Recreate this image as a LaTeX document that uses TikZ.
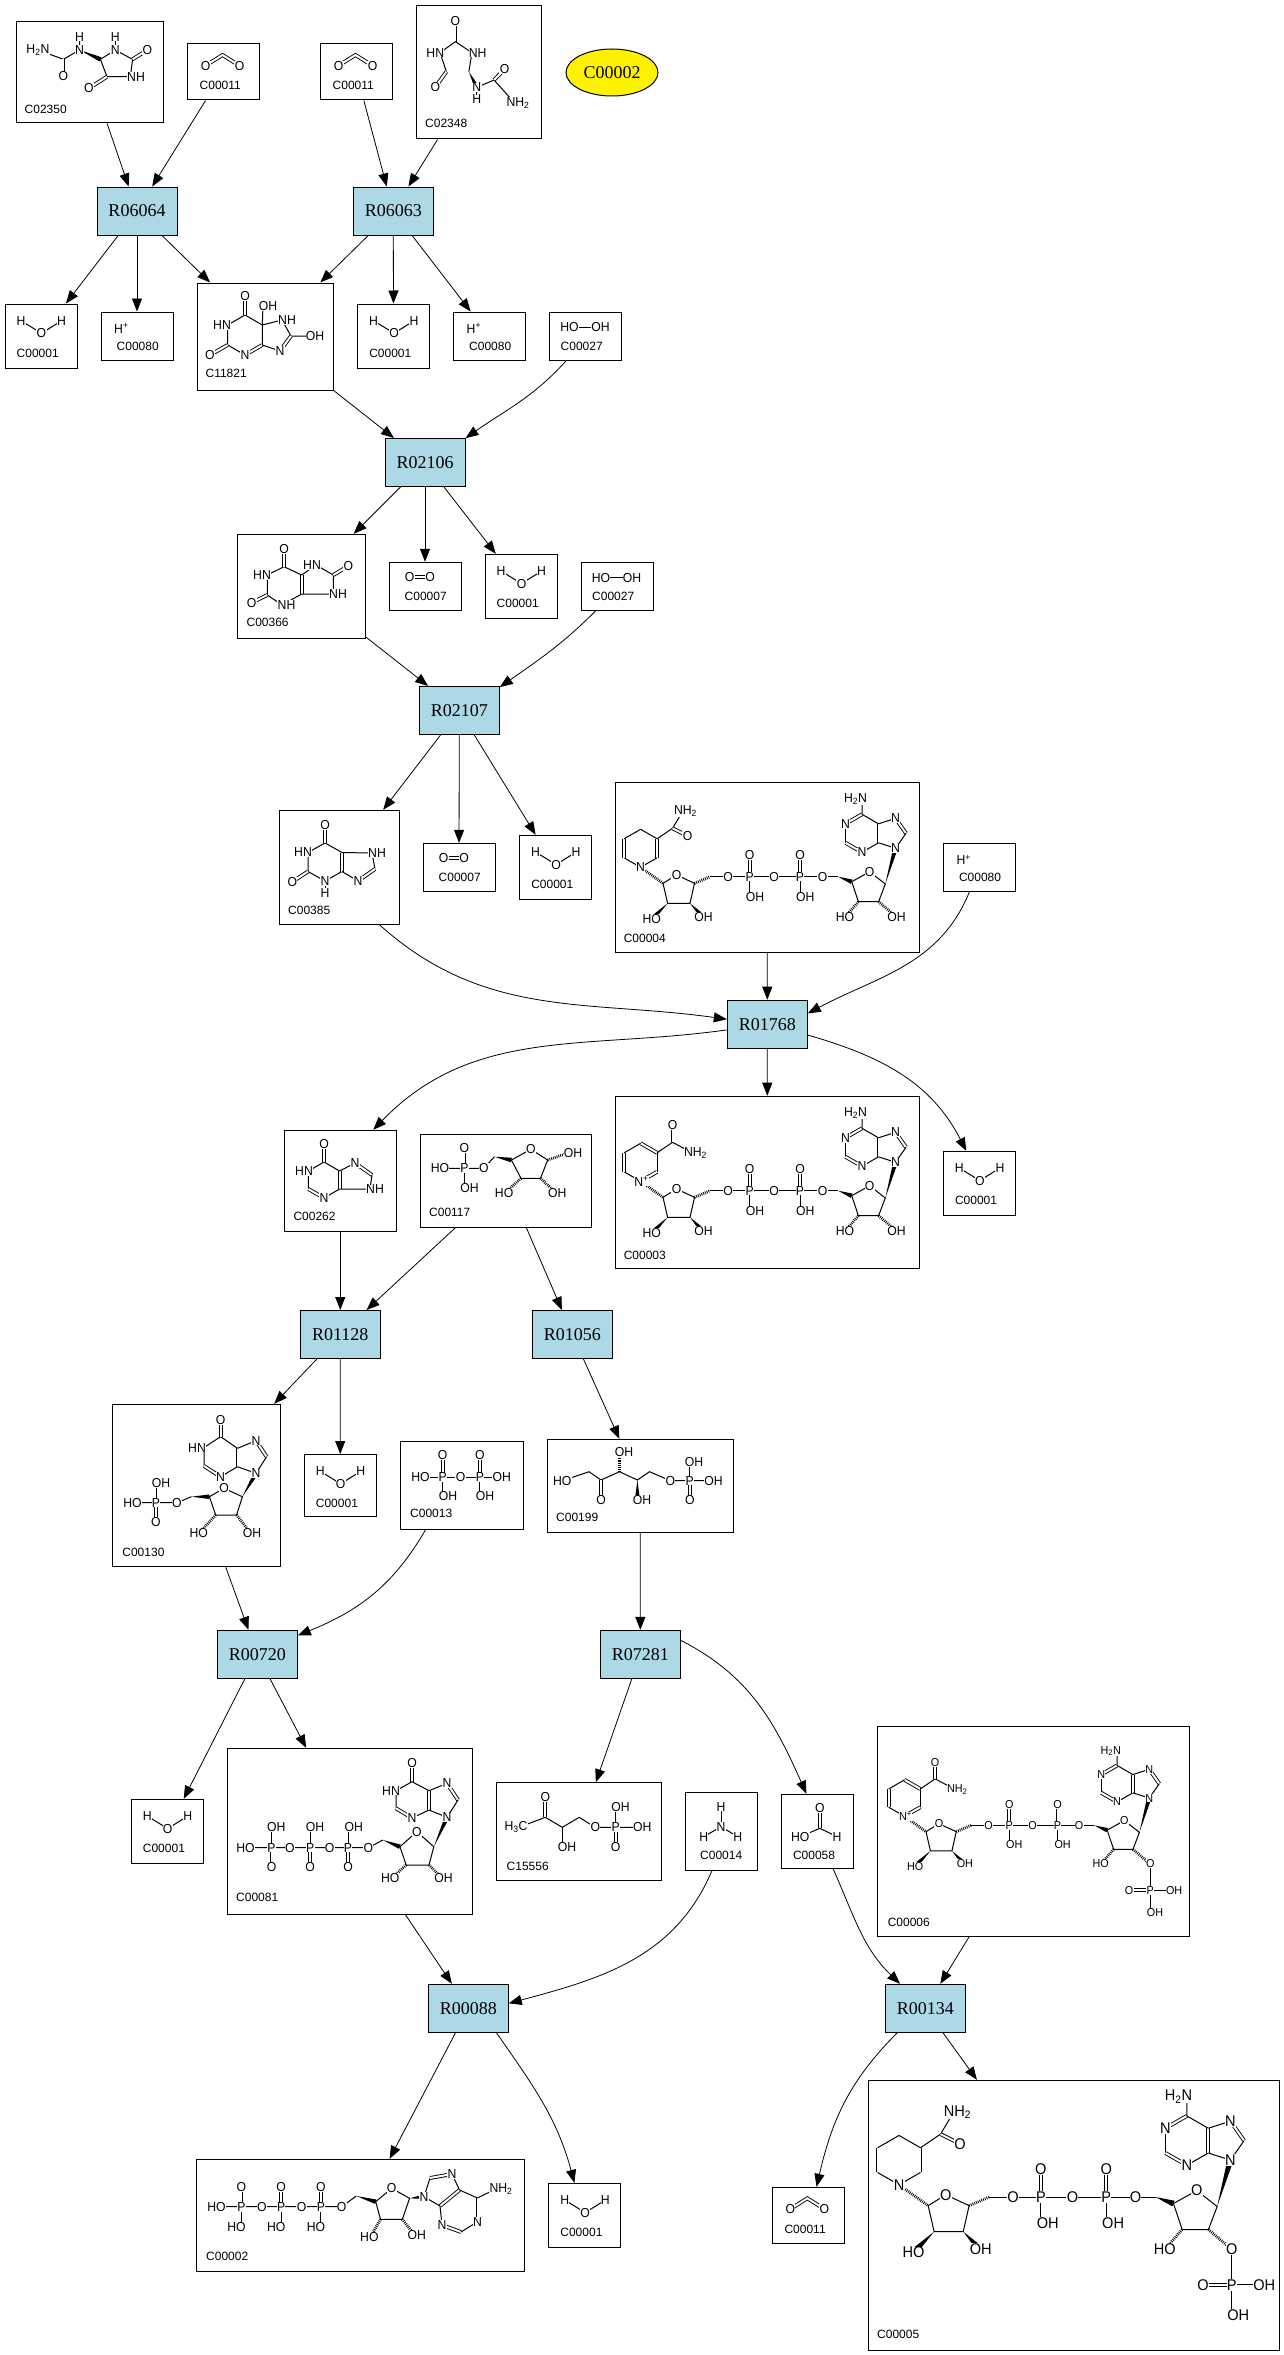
\documentclass[tikz,border=0pt]{standalone}
\usepackage{fontspec}
\usetikzlibrary{arrows.meta,calc,shapes.geometric}
\newfontfamily\chemf[FakeStretch=0.94]{Liberation Sans}
\newfontfamily\idf{Liberation Sans}
\newfontfamily\rxf{Liberation Serif}
\newcommand\atomfont{\chemf\fontsize{13}{14}\selectfont}
\newcommand\idfont{\idf\fontsize{12}{13}\selectfont}
\newcommand\rxfont{\rxf\fontsize{18}{20}\selectfont}
\definecolor{rxblue}{RGB}{173,216,230}
\tikzset{
  rx/.style={draw, line width=1pt, fill=rxblue, minimum width=80pt, minimum height=48pt, inner sep=0pt, font=\rxfont},
  cbox/.style={draw, line width=1pt, inner sep=0pt},
  conn/.style={line width=0.8pt, -{Triangle[length=13pt,width=10pt]}},
  bond/.style={line width=1pt},
  dbl/.style={double, double distance=2pt, line width=0.9pt},
  hashb/.style={line width=2.8pt, dash pattern=on 0.8pt off 1.1pt},
  atom/.style={fill=white, inner sep=0.3pt, font=\atomfont},
  idl/.style={anchor=base west, inner sep=0pt, font=\idfont},
}
\newcommand\atm[2]{\node[atom] at (#1) {#2};}
\newcommand\wdg[2]{\fill ($(#1)$) -- ($(#2)!2.3pt!90:(#1)$) -- ($(#2)!2.3pt!-90:(#1)$) -- cycle;}
\newcommand\hsh[2]{\draw[hashb] (#1) -- (#2);}
% small molecules (top-left corner)
\newcommand\water[2]{\begin{scope}[shift={(#1,#2)}]
\draw[bond] (16,16.7) -- (36.5,29.3) -- (56.6,16.7);
\atm{16,16.7}{H}\atm{36.5,29.3}{O}\atm{56.6,16.7}{H}
\node[idl] at (11.5,53) {C00001};\end{scope}}
\newcommand\cotwo[2]{\begin{scope}[shift={(#1,#2)}]
\draw[dbl] (18,21.7) -- (35,11) -- (52,21.7);
\atm{18,21.7}{O}\atm{52,21.7}{O}
\node[idl] at (12,46) {C00011};\end{scope}}
\newcommand\hplus[2]{\begin{scope}[shift={(#1,#2)}]
\atm{20.4,16.3}{H\textsuperscript{+}}
\node[idl] at (15.5,38) {C00080};\end{scope}}
\newcommand\hooh[2]{\begin{scope}[shift={(#1,#2)}]
\draw[bond] (20,15.5) -- (51,15.5);
\atm{20,15.5}{HO}\atm{51,15.5}{OH}
\node[idl] at (11,38) {C00027};\end{scope}}
\newcommand\otwo[2]{\begin{scope}[shift={(#1,#2)}]
\draw[dbl] (20.5,15) -- (41,15);
\atm{20.5,15}{O}\atm{41,15}{O}
\node[idl] at (15.5,38) {C00007};\end{scope}}
% NAD family
\newcommand\nicred{%
\draw[bond] (25.1,47) -- (41.6,56.5);
\draw[dbl] (41.6,56.5) -- (41.6,75.5);
\draw[bond] (41.6,75.5) -- (25.1,85) -- (8.6,75.5);
\draw[dbl] (8.6,75.5) -- (8.6,56.5);
\draw[bond] (8.6,56.5) -- (25.1,47);
\draw[bond] (41.6,56.5) -- (57,46) -- (66,31);
\draw[dbl] (57,46) -- (71,53);
\atm{25.1,85}{N}\atm{70,29}{NH\textsubscript{2}}\atm{72,53.5}{O}}
\newcommand\nicox{%
\draw[dbl] (25.1,47) -- (41.6,56.5);
\draw[bond] (41.6,56.5) -- (41.6,75.5);
\draw[dbl] (41.6,75.5) -- (25.1,85);
\draw[bond] (25.1,85) -- (8.6,75.5);
\draw[dbl] (8.6,75.5) -- (8.6,56.5);
\draw[bond] (8.6,56.5) -- (25.1,47);
\draw[bond] (41.6,56.5) -- (57,46) -- (74,55);
\draw[dbl] (57,46) -- (57,29);
\atm{26,85}{N\textsuperscript{+}}\atm{57,29}{O}\atm{80,57}{NH\textsubscript{2}}}
\newcommand\nadcore[1]{%
\hsh{25.1,85}{47.5,101}
\draw[bond] (47.5,101) -- (61,92.7) -- (79,101) -- (74.5,121) -- (52.1,121) -- cycle;
\wdg{52.1,121}{38,135}
\wdg{74.5,121}{86,133}
\hsh{79,101}{94.5,94.4}
\draw[bond] (94.5,94.4) -- (222.5,94.4);
\draw[dbl] (134.2,94.4) -- (134.2,73); \draw[bond] (134.2,94.4) -- (134.2,114.4);
\draw[dbl] (184.5,94.4) -- (184.5,73); \draw[bond] (184.5,94.4) -- (184.5,114.4);
\wdg{222.5,94.4}{236.2,99.4}
\draw[bond] (236.2,99.4) -- (254.1,89.4) -- (269.8,101.7) -- (263.1,119.4) -- (242.9,119.4) -- cycle;
\hsh{242.9,119.4}{231,133}
\hsh{263.1,119.4}{279,133}
\wdg{269.8,101.7}{280,66}
\draw[dbl] (246.5,32) -- (230,41.5);
\draw[bond] (230,41.5) -- (230,60.5);
\draw[dbl] (230,60.5) -- (246.5,70);
\draw[bond] (246.5,70) -- (263,60.5);
\draw[dbl] (263,60.5) -- (263,41.5);
\draw[bond] (263,41.5) -- (246.5,32) -- (246.5,18);
\draw[bond] (263,41.5) -- (280,36);
\draw[dbl] (280,36) -- (290.5,51);
\draw[bond] (290.5,51) -- (280,66) -- (263,60.5);
\atm{61,92.7}{O}\atm{36.3,137}{HO}\atm{88,134.4}{OH}
\atm{112.7,94.4}{O}\atm{134.2,94.4}{P}\atm{134.2,73}{O}\atm{139.5,114.4}{OH}
\atm{158.5,94.4}{O}\atm{184.5,94.4}{P}\atm{184.5,73}{O}\atm{189.8,114.4}{OH}
\atm{207,94.4}{O}\atm{254.1,89.4}{O}\atm{229.5,134.4}{HO}\atm{281.1,134.4}{#1}
\atm{240,17}{H\textsubscript{2}N}\atm{230,41.5}{N}\atm{246.5,70}{N}\atm{280,36}{N}\atm{280,66}{N}}
\newcommand\twoP{%
\draw[bond] (281,134.4) -- (281,162) -- (304,162);
\draw[dbl] (281,162) -- (259,162);
\draw[bond] (281,162) -- (281,185);
\atm{281,162}{P}\atm{259,162}{O}\atm{306,162}{OH}\atm{286,185}{OH}}

\begin{document}
\begin{tikzpicture}[x=1pt,y=-1pt]
\fill[white] (0,0) rectangle (1284,2355);
\useasboundingbox (0,0) rectangle (1284,2355);

% ---------------- boxes ----------------
\node[cbox, minimum width=146.5pt, minimum height=101pt] (c02350) at (89.75,72.5) {};
\node[cbox, minimum width=71.5pt, minimum height=56pt] (c00011a) at (223.25,72) {};
\node[cbox, minimum width=71.5pt, minimum height=56pt] (c00011b) at (356.25,72) {};
\node[cbox, minimum width=125pt, minimum height=133pt] (c02348) at (479,72.5) {};
\node[draw, line width=1pt, ellipse, fill=yellow, minimum width=92pt, minimum height=47pt, inner sep=0pt, font=\rxfont] (c00002e) at (612,72.5) {C00002};
\node[rx] (r06064) at (137,211) {R06064};
\node[rx] (r06063) at (393.25,211) {R06063};
\node[cbox, minimum width=72pt, minimum height=64pt] (c00001a) at (41,336) {};
\node[cbox, minimum width=72pt, minimum height=48pt] (c00080a) at (137,336) {};
\node[cbox, minimum width=136.5pt, minimum height=107pt] (c11821) at (265.25,336.5) {};
\node[cbox, minimum width=72pt, minimum height=64pt] (c00001b) at (393.55,336) {};
\node[cbox, minimum width=72pt, minimum height=48pt] (c00080b) at (489.5,336) {};
\node[cbox, minimum width=72pt, minimum height=48pt] (c00027a) at (585.5,336) {};
\node[rx] (r02106) at (425,462.5) {R02106};
\node[cbox, minimum width=127.5pt, minimum height=104pt] (c00366) at (301.25,586.3) {};
\node[cbox, minimum width=72pt, minimum height=48pt] (c00007a) at (425,586.3) {};
\node[cbox, minimum width=72pt, minimum height=64pt] (c00001c) at (521,586.3) {};
\node[cbox, minimum width=72pt, minimum height=48pt] (c00027b) at (617,586.3) {};
\node[rx] (r02107) at (459.3,710.5) {R02107};
\node[cbox, minimum width=119.5pt, minimum height=114pt] (c00385) at (339.25,867.3) {};
\node[cbox, minimum width=72pt, minimum height=48pt] (c00007b) at (459,867.3) {};
\node[cbox, minimum width=72pt, minimum height=64pt] (c00001d) at (555.55,867.3) {};
\node[cbox, minimum width=303.5pt, minimum height=170pt] (c00004) at (767.25,867.3) {};
\node[cbox, minimum width=72pt, minimum height=48pt] (c00080c) at (979.3,867.3) {};
\node[rx] (r01768) at (767.3,1024.2) {R01768};
\node[cbox, minimum width=303.5pt, minimum height=172pt] (c00003) at (767.25,1182.2) {};
\node[cbox, minimum width=72pt, minimum height=64pt] (c00001e) at (979.3,1183.3) {};
\node[cbox, minimum width=111.5pt, minimum height=100.7pt] (c00262) at (340.25,1180.65) {};
\node[cbox, minimum width=170.7pt, minimum height=92.7pt] (c00117) at (506.05,1180.65) {};
\node[rx] (r01128) at (340.25,1334.5) {R01128};
\node[rx] (r01056) at (572.45,1334.5) {R01056};
\node[cbox, minimum width=167.5pt, minimum height=162.4pt] (c00130) at (196.25,1485.5) {};
\node[cbox, minimum width=72pt, minimum height=62pt] (c00001f) at (340.2,1485.5) {};
\node[cbox, minimum width=122.6pt, minimum height=88pt] (c00013) at (461.7,1485) {};
\node[cbox, minimum width=185.3pt, minimum height=92.7pt] (c00199) at (640.35,1485.65) {};
\node[rx] (r00720) at (257.3,1654.3) {R00720};
\node[rx] (r07281) at (640.3,1654.3) {R07281};
\node[cbox, minimum width=72pt, minimum height=64pt] (c00001g) at (167.2,1831.3) {};
\node[cbox, minimum width=244.7pt, minimum height=166pt] (c00081) at (349.65,1831.3) {};
\node[cbox, minimum width=164.8pt, minimum height=97.3pt] (c15556) at (578.8,1831.35) {};
\node[cbox, minimum width=72pt, minimum height=78pt] (c00014) at (721,1831.3) {};
\node[cbox, minimum width=72pt, minimum height=74pt] (c00058) at (817.2,1831.3) {};
\node[cbox, minimum width=311.6pt, minimum height=209.3pt] (c00006) at (1033.2,1831.35) {};
\node[rx] (r00088) at (468.25,2008.3) {R00088};
\node[rx] (r00134) at (925.4,2008.3) {R00134};
\node[cbox, minimum width=327.7pt, minimum height=112pt] (c00002b) at (360.15,2215.3) {};
\node[cbox, minimum width=71.3pt, minimum height=64pt] (c00001h) at (584.35,2215.3) {};
\node[cbox, minimum width=72pt, minimum height=56pt] (c00011c) at (808.35,2215.3) {};
\node[cbox, minimum width=411.2pt, minimum height=270pt] (c00005) at (1074,2215.3) {};

% ---------------- small molecules ----------------
\cotwo{187.5}{44}\cotwo{320.5}{44}\cotwo{772.35}{2187.3}
\water{5}{304}\water{357.55}{304}\water{485}{554.3}\water{519.55}{835.3}
\water{943.3}{1151.3}\water{304.2}{1454.5}\water{131.2}{1799.3}\water{548.7}{2183.3}
\hplus{101}{312}\hplus{453.5}{312}\hplus{943.3}{843.3}
\hooh{549.5}{312}\hooh{581}{562.3}
\otwo{389}{562.3}\otwo{423}{843.3}

% C02350
\draw[bond] (37.9,50) -- (63.4,59.3) -- (79.5,50) -- (79.5,36.7);
\draw[dbl] (63.4,59.3) -- (63.4,76);
\wdg{79.5,50}{100.4,59.3}
\draw[bond] (100.4,59.3) -- (115.2,50) -- (132.6,59.3) -- (130.4,76.7) -- (107,76.7) -- cycle;
\draw[bond] (115.2,50) -- (115.2,36.7);
\draw[dbl] (132.6,59.3) -- (147.3,50);
\draw[dbl] (107,76.7) -- (89,88.3);
\atm{37.9,50}{H\textsubscript{2}N}\atm{79.5,50}{N}\atm{79.5,36.7}{H}\atm{63.4,76}{O}
\atm{115.2,50}{N}\atm{115.2,36.7}{H}\atm{147.3,50}{O}\atm{136,76.7}{NH}\atm{89,88.3}{O}
\node[idl] at (24.5,113.3) {C02350};

% C02348
\draw[dbl] (455.4,41.7) -- (455.4,20.7);
\draw[bond] (440,52.7) -- (455.4,41.7) -- (472,52.7);
\draw[bond] (440,52.7) -- (446.4,71.7);
\draw[dbl] (446.4,71.7) -- (435.3,87.3);
\draw[bond] (472,52.7) -- (468.8,71.7);
\wdg{468.8,71.7}{476.8,87.3}
\draw[bond] (476.8,87.3) -- (476.8,99.5);
\draw[bond] (476.8,87.3) -- (494,80) -- (512,100);
\draw[dbl] (494,80) -- (504.5,69.3);
\atm{455.4,20.7}{O}\atm{435.3,52.7}{HN}\atm{477.7,52.7}{NH}\atm{435.3,87.3}{O}\atm{476.8,87.3}{N}\atm{476.8,99.5}{H}\atm{504.5,69.3}{O}\atm{518,102.7}{NH\textsubscript{2}}
\node[idl] at (425,127.3) {C02348};

% C11821
\draw[bond] (245,315) -- (227.7,325) -- (227.7,345) -- (245,355);
\draw[dbl] (245,355) -- (262.3,345);
\draw[bond] (262.3,345) -- (262.3,325) -- (245,315);
\draw[dbl] (245,315) -- (245,296);
\draw[dbl] (227.7,345) -- (210,355);
\draw[bond] (262.3,325) -- (263,306);
\draw[bond] (262.3,325) -- (282,320) -- (291,336) -- (315,336);
\draw[dbl] (291,336) -- (280,351);
\draw[bond] (280,351) -- (262.3,345);
\atm{245,296}{O}\atm{222,325}{HN}\atm{210,355}{O}\atm{245,355}{N}\atm{268,306}{OH}\atm{287,320}{NH}\atm{280,351}{N}\atm{315,336}{OH}
\node[idl] at (205.4,377.7) {C11821};

% C00366
\draw[bond] (284,566.7) -- (267.3,575) -- (267.3,595) -- (282,605) -- (301.7,594);
\draw[dbl] (301.7,594) -- (301.7,575);
\draw[bond] (301.7,575) -- (284,566.7);
\draw[dbl] (284,566.7) -- (284,549.3);
\draw[dbl] (267.3,595) -- (251.7,602.7);
\draw[bond] (301.7,575) -- (316,565) -- (333.3,575) -- (333.3,594) -- (301.7,594);
\draw[dbl] (333.3,575) -- (348.3,566);
\atm{284,549.3}{O}\atm{262,575}{HN}\atm{251.7,602.7}{O}\atm{286.5,605}{NH}\atm{312,565}{HN}\atm{348.3,566}{O}\atm{338,594}{NH}
\node[idl] at (246.4,626) {C00366};

% C00385
\draw[bond] (325,843) -- (308,852.5) -- (308,871.5) -- (325,881) -- (342,871.5);
\draw[dbl] (342,871.5) -- (342,852.5);
\draw[bond] (342,852.5) -- (325,843);
\draw[dbl] (325,843) -- (325,825);
\draw[dbl] (308,871.5) -- (292.4,881.7);
\draw[bond] (325,881) -- (325,893);
\draw[bond] (342,852.5) -- (372,853) -- (375,869);
\draw[dbl] (375,869) -- (358,881);
\draw[bond] (358,881) -- (342,871.5);
\atm{325,825}{O}\atm{303,852.5}{HN}\atm{292.4,881.7}{O}\atm{325,881}{N}\atm{325,893}{H}\atm{377,853}{NH}\atm{358,881}{N}
\node[idl] at (288,914.3) {C00385};

% NAD family
\begin{scope}[shift={(615.5,782.3)}]\nadcore{OH}\nicred\end{scope}
\node[idl] at (623.6,942.7) {C00004};
\begin{scope}[shift={(615.5,1096.3)}]\nadcore{OH}\nicox\end{scope}
\node[idl] at (623.6,1259) {C00003};
\begin{scope}[shift={(880.4,1734.7)}, scale=0.96]
\renewcommand\atomfont{\chemf\fontsize{11.5}{12}\selectfont}
\twoP\nadcore{O}\nicox\end{scope}
\node[idl] at (887.6,1926.7) {C00006};
\begin{scope}[shift={(866.4,2074.3)}, scale=1.3]
\renewcommand\atomfont{\chemf\fontsize{15.5}{16}\selectfont}
\twoP\nadcore{O}\nicred\end{scope}
\node[idl] at (877,2338.3) {C00005};

% C00262
\draw[bond] (324,1162) -- (308.4,1171) -- (308.4,1189);
\draw[dbl] (308.4,1189) -- (324,1198);
\draw[bond] (324,1198) -- (339.6,1189);
\draw[dbl] (339.6,1189) -- (339.6,1171);
\draw[bond] (339.6,1171) -- (324,1162);
\draw[dbl] (324,1162) -- (324,1144.3);
\draw[bond] (339.6,1171) -- (355,1163);
\draw[dbl] (355,1163) -- (372,1175);
\draw[bond] (372,1175) -- (370,1189) -- (339.6,1189);
\atm{324,1144.3}{O}\atm{304,1171}{HN}\atm{324,1198}{N}\atm{355,1163}{N}\atm{375,1189.3}{NH}
\node[idl] at (293.3,1220.7) {C00262};

% C00117
\draw[dbl] (464.4,1168.3) -- (464.4,1148.3);
\draw[bond] (438.7,1168.3) -- (483.8,1168.3) -- (494.4,1156.7);
\draw[bond] (464.4,1168.3) -- (464.4,1188.3);
\wdg{494.4,1156.7}{511.4,1160}
\draw[bond] (511.4,1160) -- (530.8,1149.3) -- (547.7,1160) -- (540.5,1178.3) -- (521,1178.3) -- cycle;
\hsh{547.7,1160}{568,1153}
\hsh{521,1178.3}{506,1192}
\hsh{540.5,1178.3}{555,1192}
\atm{464.4,1148.3}{O}\atm{440,1168.3}{HO}\atm{464.4,1168.3}{P}\atm{469.5,1188.3}{OH}\atm{483.8,1168.3}{O}\atm{530.8,1149.3}{O}\atm{573,1152.7}{OH}\atm{504.1,1193.3}{HO}\atm{557.4,1192.7}{OH}
\node[idl] at (429,1216.7) {C00117};

% C00130
\draw[bond] (220.6,1436.7) -- (204,1447.5) -- (204,1466);
\draw[dbl] (204,1466) -- (220.6,1476.7);
\draw[bond] (220.6,1476.7) -- (237.5,1466.7);
\draw[dbl] (237.5,1466.7) -- (237.5,1448.3);
\draw[bond] (237.5,1448.3) -- (220.6,1436.7);
\draw[dbl] (220.6,1436.7) -- (220.6,1420);
\draw[bond] (237.5,1448.3) -- (256,1440.7);
\draw[dbl] (256,1440.7) -- (266.6,1456.7);
\draw[bond] (266.6,1456.7) -- (256,1473.3) -- (237.5,1466.7);
\draw[bond] (224,1488.3) -- (242.4,1496.7) -- (236.6,1515) -- (215.7,1515) -- (209.4,1496.7) -- cycle;
\wdg{242.4,1496.7}{256,1473.3}
\hsh{215.7,1515}{201,1531}
\hsh{236.6,1515}{249,1531}
\wdg{191.5,1496.7}{209.4,1496.7}
\draw[bond] (191.5,1496.7) -- (177,1502.7) -- (131.8,1502.7);
\draw[bond] (156,1502.7) -- (156,1483.3);
\draw[dbl] (156,1502.7) -- (156,1521.7);
\atm{220.6,1420}{O}\atm{197,1447.7}{HN}\atm{220.6,1476.7}{N}\atm{256,1440.7}{N}\atm{256,1473.3}{N}\atm{224,1488.3}{O}
\atm{198.7,1533.3}{HO}\atm{252,1533.3}{OH}\atm{177,1502.7}{O}\atm{156,1502.7}{P}\atm{161,1483.3}{OH}\atm{156,1521.7}{O}\atm{132.5,1502.7}{HO}
\node[idl] at (122.2,1556) {C00130};

% C00013
\draw[bond] (419.8,1477.3) -- (501.7,1477.3);
\draw[dbl] (442.6,1477.3) -- (442.6,1455);
\draw[dbl] (479.9,1477.3) -- (479.9,1455);
\draw[bond] (442.6,1477.3) -- (442.6,1495.7);
\draw[bond] (479.9,1477.3) -- (479.9,1495.7);
\atm{442.6,1455}{O}\atm{479.9,1455}{O}\atm{420.5,1477.3}{HO}\atm{442.6,1477.3}{P}\atm{460.5,1477.3}{O}\atm{479.9,1477.3}{P}\atm{501.7,1477.3}{OH}\atm{448,1495.7}{OH}\atm{485,1495.7}{OH}
\node[idl] at (410,1517.7) {C00013};

% C00199
\draw[bond] (562.3,1480.7) -- (589,1471.7) -- (601,1480) -- (619.5,1471.7) -- (637.4,1480) -- (649.5,1471.7) -- (670.4,1480.7) -- (713.5,1480.7);
\draw[dbl] (601,1480) -- (601,1500);
\hsh{619.5,1471.7}{619.5,1453}
\wdg{637.4,1480}{637.4,1498}
\draw[bond] (689.8,1480.7) -- (689.8,1461.7);
\draw[dbl] (689.8,1480.7) -- (689.8,1500);
\atm{562.3,1480.7}{HO}\atm{624,1451.7}{OH}\atm{601,1500}{O}\atm{642,1500}{OH}\atm{670.4,1480.7}{O}\atm{689.8,1480.7}{P}\atm{694,1461.7}{OH}\atm{713.5,1480.7}{OH}\atm{689.8,1500}{O}
\node[idl] at (556,1521.7) {C00199};

% C00081
\draw[bond] (244.8,1847.7) -- (368.4,1847.7) -- (382.9,1840);
\draw[bond] (271.5,1847.7) -- (271.5,1826.7); \draw[dbl] (271.5,1847.7) -- (271.5,1867.3);
\draw[bond] (310.2,1847.7) -- (310.2,1826.7); \draw[dbl] (310.2,1847.7) -- (310.2,1867.3);
\draw[bond] (348,1847.7) -- (348,1826.7); \draw[dbl] (348,1847.7) -- (348,1867.3);
\wdg{382.9,1840}{399.9,1846.7}
\draw[bond] (399.9,1846.7) -- (416.9,1831.7) -- (433.8,1846.7) -- (429,1865) -- (406.2,1865) -- cycle;
\hsh{406.2,1865}{393,1877}
\hsh{429,1865}{441,1877}
\wdg{433.8,1846.7}{447,1817.3}
\draw[dbl] (412,1781.7) -- (412,1763.3);
\draw[bond] (412,1781.7) -- (396,1790.7) -- (396,1808.3);
\draw[dbl] (396,1808.3) -- (412,1818);
\draw[bond] (412,1818) -- (429,1810);
\draw[dbl] (429,1810) -- (429,1790.7);
\draw[bond] (429,1790.7) -- (412,1781.7);
\draw[bond] (429,1790.7) -- (447,1783.3);
\draw[dbl] (447,1783.3) -- (458,1800);
\draw[bond] (458,1800) -- (447,1817.3) -- (429,1810);
\atm{245.5,1847.7}{HO}\atm{271.5,1847.7}{P}\atm{276.3,1826.7}{OH}\atm{271.5,1867.3}{O}\atm{289.9,1847.7}{O}\atm{310.2,1847.7}{P}\atm{315.1,1826.7}{OH}\atm{310.2,1867.3}{O}\atm{329.6,1847.7}{O}\atm{348,1847.7}{P}\atm{353.9,1826.7}{OH}\atm{348,1867.3}{O}\atm{368.4,1847.7}{O}
\atm{416.9,1831.7}{O}\atm{390.2,1878.3}{HO}\atm{443.5,1878.3}{OH}\atm{412,1763.3}{O}\atm{391,1790.7}{HN}\atm{412,1818}{N}\atm{447,1783.3}{N}\atm{447,1817.3}{N}
\node[idl] at (236,1901.7) {C00081};

% C15556
\draw[bond] (518.7,1827.3) -- (545.3,1817.3) -- (562.3,1827.3) -- (579.2,1817.3) -- (595.3,1827.3) -- (642.3,1827.3);
\draw[dbl] (545.3,1817.3) -- (545.3,1796.7);
\draw[bond] (562.3,1827.3) -- (562.3,1847.3);
\draw[bond] (615.6,1827.3) -- (615.6,1806.7);
\draw[dbl] (615.6,1827.3) -- (615.6,1847.3);
\atm{516,1827.3}{H\textsubscript{3}C}\atm{545.3,1796.7}{O}\atm{567,1847.3}{OH}\atm{595.3,1827.3}{O}\atm{615.6,1827.3}{P}\atm{620.5,1806.7}{OH}\atm{642.3,1827.3}{OH}\atm{615.6,1847.3}{O}
\node[idl] at (506.5,1870.7) {C15556};

% C00014
\draw[bond] (721,1806.7) -- (721,1826.7);
\draw[bond] (703.7,1836.7) -- (721,1826.7) -- (737.7,1836.7);
\atm{721,1806.7}{H}\atm{721,1826.7}{N}\atm{703.7,1836.7}{H}\atm{737.7,1836.7}{H}
\node[idl] at (700,1859.3) {C00014};

% C00058
\draw[dbl] (819.9,1828.3) -- (819.9,1808.3);
\draw[bond] (800.2,1836.7) -- (819.9,1828.3) -- (837.1,1836.7);
\atm{819.9,1808.3}{O}\atm{800.2,1836.7}{HO}\atm{837.1,1836.7}{H}
\node[idl] at (792.8,1859.3) {C00058};

% C00002 (ATP)
\draw[bond] (215.7,2206.7) -- (341.7,2206.7) -- (356.3,2196);
\draw[dbl] (241.4,2206.7) -- (241.4,2187.3); \draw[bond] (241.4,2206.7) -- (241.4,2226.7);
\draw[dbl] (281.1,2206.7) -- (281.1,2187.3); \draw[bond] (281.1,2206.7) -- (281.1,2226.7);
\draw[dbl] (320.9,2206.7) -- (320.9,2187.3); \draw[bond] (320.9,2206.7) -- (320.9,2226.7);
\wdg{356.3,2196}{375.7,2201.7}
\draw[bond] (375.7,2201.7) -- (391.7,2188.3) -- (409.6,2198.3) -- (402.3,2219.3) -- (380.5,2219.3) -- cycle;
\hsh{380.5,2219.3}{372,2234}
\hsh{402.3,2219.3}{413,2233}
\wdg{409.6,2198.3}{424.1,2196.7}
\draw[bond] (424.1,2196.7) -- (430,2178);
\draw[dbl] (430,2178) -- (452,2174);
\draw[bond] (452,2174) -- (459.5,2190);
\draw[dbl] (459.5,2190) -- (440,2206);
\draw[bond] (440,2206) -- (424.1,2196.7);
\draw[bond] (440,2206) -- (442,2225);
\draw[dbl] (442,2225) -- (461,2232);
\draw[bond] (461,2232) -- (477.5,2221.7);
\draw[dbl] (477.5,2221.7) -- (477.5,2198);
\draw[bond] (477.5,2198) -- (459.5,2190);
\draw[bond] (477.5,2198) -- (495,2189.3);
\atm{216.5,2206.7}{HO}\atm{241.4,2206.7}{P}\atm{241.4,2187.3}{O}\atm{236.5,2226.7}{HO}\atm{261.8,2206.7}{O}\atm{281.1,2206.7}{P}\atm{281.1,2187.3}{O}\atm{276.3,2226.7}{HO}\atm{301.5,2206.7}{O}\atm{320.9,2206.7}{P}\atm{320.9,2187.3}{O}\atm{316,2226.7}{HO}\atm{341.7,2206.7}{O}
\atm{391.7,2188.3}{O}\atm{369.4,2236.7}{HO}\atm{416.9,2235}{OH}\atm{424.1,2196.7}{N}\atm{452,2174}{N}\atm{442,2225}{N}\atm{477.5,2221.7}{N}\atm{501,2189.3}{NH\textsubscript{2}}
\node[idl] at (206,2260) {C00002};

% ---------------- connectors ----------------
\draw[conn] (c02350) -- (r06064);
\draw[conn] (c00011a) -- (r06064);
\draw[conn] (c00011b) -- (r06063);
\draw[conn] (c02348) -- (r06063);
\draw[conn] (r06064) -- (c00001a);
\draw[conn] (r06064) -- (c00080a);
\draw[conn] (r06064) -- (c11821);
\draw[conn] (r06063) -- (c11821);
\draw[conn] (r06063) -- (c00001b);
\draw[conn] (r06063) -- (c00080b);
\draw[conn] (c11821) -- (r02106);
\draw[conn] (c00027a.232) to[out=228,in=35] (r02106.31);
\draw[conn] (r02106) -- (c00366);
\draw[conn] (r02106) -- (c00007a);
\draw[conn] (r02106) -- (c00001c);
\draw[conn] (c00366) -- (r02107);
\draw[conn] (c00027b.229) to[out=225,in=35] (r02107.30);
\draw[conn] (r02107) -- (c00385);
\draw[conn] (r02107) -- (c00007b);
\draw[conn] (r02107) -- (c00001d);
\draw[conn] (c00385.305) to[out=318,in=172] (r01768.173);
\draw[conn] (c00004) -- (r01768);
\draw[conn] (c00080c.248) to[out=248,in=28] (r01768.15);
\draw[conn] (r01768.188) to[out=188,in=46] (c00262.57);
\draw[conn] (r01768) -- (c00003);
\draw[conn] (r01768.345) to[out=344,in=117] (c00001e.112);
\draw[conn] (c00262) -- (r01128);
\draw[conn] (c00117) -- (r01128);
\draw[conn] (c00117) -- (r01056);
\draw[conn] (r01128) -- (c00130);
\draw[conn] (r01128) -- (c00001f);
\draw[conn] (r01056) -- (c00199);
\draw[conn] (c00130) -- (r00720);
\draw[conn] (c00013.231) to[out=240,in=22] (r00720.25);
\draw[conn] (c00199) -- (r07281);
\draw[conn] (r00720) -- (c00001g);
\draw[conn] (r00720) -- (c00081);
\draw[conn] (r07281) -- (c15556);
\draw[conn] (r07281.19) to[out=333,in=114] (c00058.106);
\draw[conn] (c00081) -- (r00088);
\draw[conn] (c00014.257) to[out=247,in=15] (r00088.7);
\draw[conn] (c00058.293) to[out=294,in=136] (r00134.136);
\draw[conn] (c00006) -- (r00134);
\draw[conn] (r00088) -- (c00002b);
\draw[conn] (r00088.319) to[out=305,in=105] (c00001h.107);
\draw[conn] (r00134.221) to[out=225,in=77] (c00011c.74);
\draw[conn] (r00134) -- (c00005);
\end{tikzpicture}
\end{document}
